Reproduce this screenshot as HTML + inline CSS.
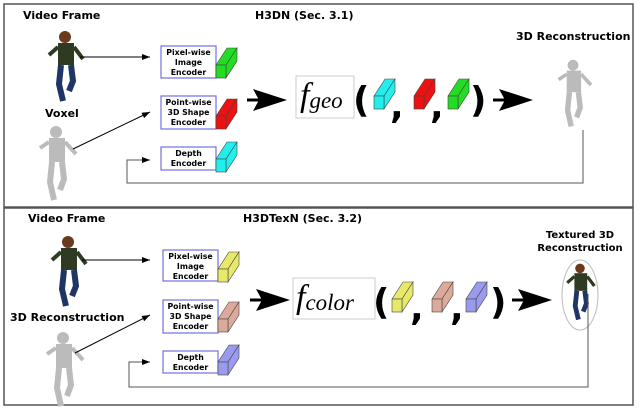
<!DOCTYPE html>
<html><head><style>body{margin:0;background:#fff}svg{display:block}text{font-family:"DejaVu Sans","Liberation Sans",sans-serif;font-weight:bold}</style></head><body>
<svg width="640" height="410" viewBox="0 0 640 410" xmlns="http://www.w3.org/2000/svg">
<defs>
<marker id="a" markerWidth="8" markerHeight="6" refX="8" refY="3" orient="auto" markerUnits="userSpaceOnUse"><path d="M0,0L8,3L0,6z"/></marker>
<g id="cube" stroke="#444" stroke-width=".6"><path d="M0,17 L11,0 L21,0 L10,17z"/><path d="M10,17 L21,0 L21,13 L10,30z"/><rect x="0" y="17" width="10" height="13"/></g>
<g id="bigarrow"><path d="M0,0 h14" stroke="#000" stroke-width="3"/><path d="M6,-11 L40,0 L6,11 L12,0z"/></g>
<g id="person">
<circle cx="20" cy="8" r="6" fill="#6b3a1e"/><rect x="13" y="14" width="16" height="22" fill="#2e3a22"/>
<path d="M13,18 L4,26 M29,18 L38,30" stroke="#2e3a22" stroke-width="4"/>
<path d="M16,36 L14,55 L18,72 M26,36 L28,52 L24,62" stroke="#1f3566" stroke-width="6" fill="none"/></g>
<g id="gperson" fill="#bbb">
<circle cx="20" cy="8" r="6"/><rect x="13" y="14" width="16" height="24"/>
<path d="M13,18 L4,24 M29,18 L40,30" stroke="#bbb" stroke-width="4"/>
<path d="M16,38 L14,58 L18,76 M26,38 L28,55 L24,66" stroke="#bbb" stroke-width="6" fill="none"/></g>
</defs>
<rect x="4" y="4" width="629" height="203" fill="none" stroke="#555" stroke-width="1.5"/>
<rect x="4" y="208" width="629" height="197" fill="none" stroke="#555" stroke-width="1.5"/>
<text x="23" y="19" font-size="11">Video Frame</text>
<text x="255" y="19" font-size="11">H3DN (Sec. 3.1)</text>
<text x="516" y="40" font-size="11">3D Reconstruction</text>
<text x="45" y="117" font-size="11">Voxel</text>
<use href="#person" x="45" y="29"/>
<use href="#gperson" x="36" y="124"/>
<use href="#gperson" transform="translate(555,58) scale(0.9)"/>
<g stroke="#000" stroke-width="1" fill="none">
<line x1="80" y1="57" x2="150" y2="57" marker-end="url(#a)"/>
<line x1="73" y1="149" x2="150" y2="112" marker-end="url(#a)"/>
<path d="M583,130 V183 H127 V160 H150" stroke="#555" marker-end="url(#a)"/>
</g>
<g fill="#fff" stroke="#7070e0" stroke-width="1.2"><rect x="161" y="46" width="55" height="32"/><rect x="161" y="96" width="55" height="33"/><rect x="161" y="147" width="55" height="23"/></g>
<g font-size="7.8" text-anchor="middle"><text x="188.5" y="55">Pixel-wise</text><text x="188.5" y="65">Image</text><text x="188.5" y="75">Encoder</text>
<text x="188.5" y="105">Point-wise</text><text x="188.5" y="115">3D Shape</text><text x="188.5" y="125">Encoder</text>
<text x="188.5" y="156">Depth</text><text x="188.5" y="166">Encoder</text></g>
<use href="#cube" x="216" y="48" fill="#22dd22"/><use href="#cube" x="216" y="99" fill="#ee1111"/><use href="#cube" x="216" y="142" fill="#22eeee"/>
<use href="#bigarrow" x="247" y="100"/>
<rect x="296" y="76" width="58" height="42" fill="#fff" stroke="#ccc"/>
<text x="300" y="106" font-size="34" style="font-family:'Liberation Serif',serif;font-weight:normal;font-style:italic">f<tspan font-size="23" dy="2">geo</tspan></text>
<text x="353" y="112" font-size="36">(</text><text x="390" y="118" font-size="36">,</text><text x="430" y="118" font-size="36">,</text><text x="470" y="112" font-size="36">)</text>
<use href="#cube" x="374" y="79" fill="#22eeee"/><use href="#cube" x="414" y="79" fill="#ee1111"/><use href="#cube" x="448" y="79" fill="#22dd22"/>
<use href="#bigarrow" x="493" y="100"/>

<text x="28" y="222" font-size="11">Video Frame</text>
<text x="243" y="222" font-size="11">H3DTexN (Sec. 3.2)</text>
<text x="580" y="238" font-size="10" text-anchor="middle">Textured 3D</text>
<text x="580" y="251" font-size="10" text-anchor="middle">Reconstruction</text>
<text x="10" y="321" font-size="11">3D Reconstruction</text>
<use href="#person" x="48" y="234"/>
<use href="#gperson" x="43" y="330"/>
<ellipse cx="580" cy="295" rx="18" ry="35" fill="none" stroke="#bbb"/>
<use href="#person" transform="translate(564,262) scale(0.8)"/>
<g stroke="#000" stroke-width="1" fill="none">
<line x1="82" y1="260" x2="150" y2="260" marker-end="url(#a)"/>
<line x1="75" y1="353" x2="150" y2="315" marker-end="url(#a)"/>
<path d="M588,294 V387 H129 V362 H150" stroke="#555" marker-end="url(#a)"/>
</g>
<g fill="#fff" stroke="#7070e0" stroke-width="1.2"><rect x="163" y="250" width="55" height="31"/><rect x="163" y="300" width="55" height="33"/><rect x="163" y="351" width="55" height="22"/></g>
<g font-size="7.8" text-anchor="middle"><text x="190.5" y="259">Pixel-wise</text><text x="190.5" y="269">Image</text><text x="190.5" y="279">Encoder</text>
<text x="190.5" y="309">Point-wise</text><text x="190.5" y="319">3D Shape</text><text x="190.5" y="329">Encoder</text>
<text x="190.5" y="360">Depth</text><text x="190.5" y="370">Encoder</text></g>
<use href="#cube" x="218" y="252" fill="#e8e86a"/><use href="#cube" x="218" y="302" fill="#dcaa9a"/><use href="#cube" x="218" y="345" fill="#9a9aee"/>
<use href="#bigarrow" x="250" y="300"/>
<rect x="293" y="278" width="82" height="41" fill="#fff" stroke="#ccc"/>
<text x="296" y="308" font-size="34" style="font-family:'Liberation Serif',serif;font-weight:normal;font-style:italic">f<tspan font-size="23" dy="2">color</tspan></text>
<text x="373" y="314" font-size="36">(</text><text x="410" y="320" font-size="36">,</text><text x="450" y="320" font-size="36">,</text><text x="490" y="314" font-size="36">)</text>
<use href="#cube" x="392" y="282" fill="#e8e86a"/><use href="#cube" x="432" y="282" fill="#dcaa9a"/><use href="#cube" x="466" y="282" fill="#9a9aee"/>
<use href="#bigarrow" x="512" y="300"/>
</svg>
</body></html>
